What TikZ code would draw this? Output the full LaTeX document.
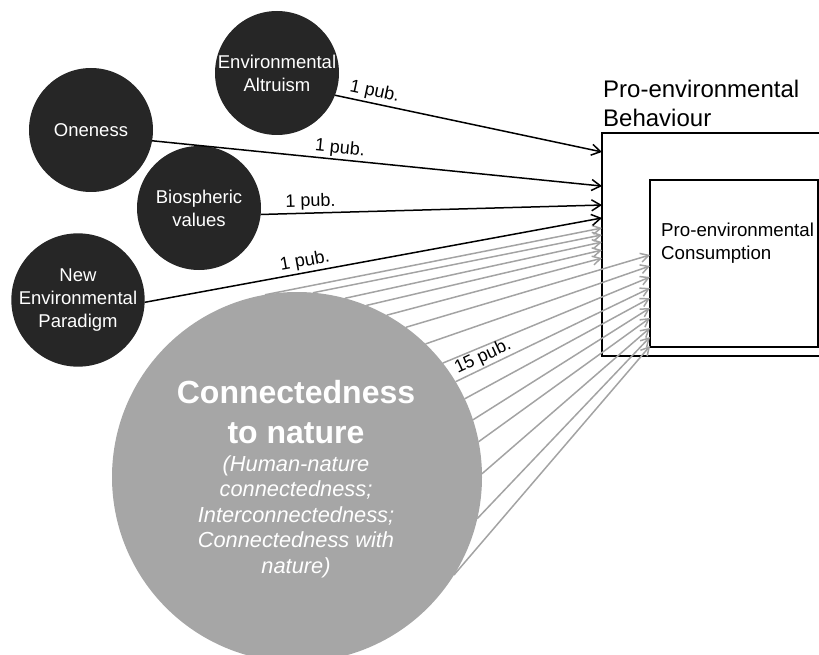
\documentclass[tikz,border=0pt]{standalone}
\usepackage{fontspec}
\setmainfont{Liberation Sans}
\usetikzlibrary{arrows.meta,calc}
\definecolor{darkfill}{HTML}{262626}
\definecolor{bigfill}{HTML}{A6A6A6}
\definecolor{linegray}{HTML}{A3A3A3}
\begin{document}
\begin{tikzpicture}[x=1pt,y=-1pt,
  darkc/.style={circle, fill=darkfill, text=white, minimum size=124pt, inner sep=0pt, outer sep=0pt, align=center, font=\fontsize{18.5}{23}\selectfont},
  bigc/.style={circle, fill=bigfill, minimum size=370pt, inner sep=0pt, outer sep=0pt},
  boxst/.style={draw=black, line width=2pt, anchor=north west, inner sep=0pt, outer sep=0pt},
  blk/.style={draw=black, line width=1.5pt, -{Straight Barb[length=9pt,width=11pt]}},
  gry/.style={draw=linegray, line width=1.5pt, -{Straight Barb[length=8pt,width=9pt]}},
  lbl/.style={font=\fontsize{18}{20}\selectfont, inner sep=0pt, text=black}
]
\useasboundingbox (0,0) rectangle (819,655);
\clip (0,0) rectangle (819,655);

% boxes
\node[boxst, minimum width=240pt, minimum height=223pt] (outer) at (602,133) {};
\node[boxst, minimum width=168pt, minimum height=167pt] (inner) at (650,180) {};
\node[anchor=north west, inner sep=0pt, align=left, font=\fontsize{24}{29}\selectfont] (otitle) at (603,80) {Pro-environmental\\Behaviour};
\node[anchor=north west, inner sep=0pt, align=left, font=\fontsize{18.7}{23}\selectfont] (ititle) at (661,223) {Pro-environmental\\Consumption};

% big circle
\node[bigc] (cn) at (297,477) {};
\node[anchor=north, inner sep=0pt, align=center, text=white, font=\fontsize{32}{40}\selectfont\bfseries] (cnt) at (296,380) {Connectedness\\to nature};
\node[anchor=north, inner sep=0pt, align=center, text=white, font=\fontsize{21.8}{25.6}\selectfont\itshape] (cns) at (296,455) {(Human-nature\\connectedness;\\Interconnectedness;\\Connectedness with\\nature)};

% gray arrows
\foreach \a/\f in {100/0.426, 85/0.457, 75/0.489, 68/0.525, 61/0.561}
  \draw[gry] (cn.\a) -- ($(outer.north west)!\f!(outer.south west)$);
\foreach \a/\f in {54/0.449, 46/0.515, 38/0.581, 31/0.647, 25/0.707, 18/0.766, 11/0.826, 1/0.886, -13/0.940, -32/0.994}
  \draw[gry] (cn.\a) -- ($(inner.north west)!\f!(inner.south west)$);
\node[lbl, rotate=25] (l15) at (483,357) {15 pub.};

% dark circles
\node[darkc] (ea) at (277,73) {Environmental\\Altruism};
\node[darkc] (on) at (91,130) {Oneness};
\node[darkc] (bv) at (199,208) {Biospheric\\values};
\node[darkc] (nep) at (78,300) {New\\Environmental\\Paradigm};

% black arrows
\draw[blk] (ea.-21) -- node[lbl, sloped, above=2pt, pos=0.14] {1 pub.} ($(outer.north west)!0.085!(outer.south west)$);
\draw[blk] (on.-10) -- node[lbl, sloped, above=2pt, pos=0.415] {1 pub.} ($(outer.north west)!0.238!(outer.south west)$);
\draw[blk] (bv.-6) -- node[lbl, sloped, above=2pt, pos=0.147] {1 pub.} ($(outer.north west)!0.323!(outer.south west)$);
\draw[blk] (nep.-2) -- node[lbl, sloped, above=2pt, pos=0.355] {1 pub.} ($(outer.north west)!0.381!(outer.south west)$);
\end{tikzpicture}
\end{document}
